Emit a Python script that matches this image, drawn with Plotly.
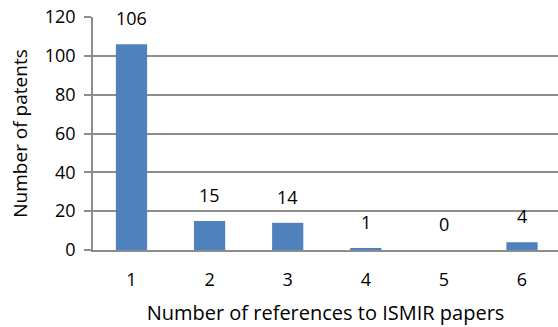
import plotly.graph_objects as go

# Patents grouped by how many ISMIR papers they cite
ref_counts = [1, 2, 3, 4, 5, 6]
patents = [106, 15, 14, 1, 0, 4]
y_ticks = [0, 20, 40, 60, 80, 100, 120]

FONT = "Open Sans"
BAR = "#4F81BD"
GRID = "#8C8C8C"

fig = go.Figure()
fig.add_trace(go.Bar(
    x=ref_counts,
    y=patents,
    marker=dict(color=BAR, line=dict(width=0)),
    width=0.4,
))

# value labels sitting above each bar
for xv, yv in zip(ref_counts, patents):
    fig.add_annotation(
        x=xv, y=yv, text=str(yv), showarrow=False,
        yanchor="bottom", yshift=12,
        font=dict(family=FONT, size=18, color="#000000"),
    )

fig.update_layout(
    width=558, height=327,
    margin=dict(l=93, r=0, t=17, b=77),
    paper_bgcolor="white", plot_bgcolor="white",
    showlegend=False,
    font=dict(family=FONT, size=18, color="#000000"),
)
fig.update_xaxes(
    range=[0.507, 6.461],
    tickvals=ref_counts,
    ticktext=[str(v) for v in ref_counts],
    showgrid=False, zeroline=False,
    showline=True, linecolor=GRID, linewidth=1.5,
    ticks="", ticklabelstandoff=13,
    tickfont=dict(family=FONT, size=18),
    title=dict(text="Number of references to ISMIR papers", standoff=16,
               font=dict(family=FONT, size=20)),
)
fig.update_yaxes(
    range=[0, 120],
    tickvals=y_ticks,
    showgrid=True, gridcolor=GRID, gridwidth=1.5,
    zeroline=False,
    showline=True, linecolor=GRID, linewidth=1.5,
    ticks="outside", ticklen=7, tickcolor=GRID, tickwidth=1.5,
    ticklabelstandoff=5,
    tickfont=dict(family=FONT, size=18),
    title=dict(text="Number of patents", standoff=12,
               font=dict(family=FONT, size=19)),
)

fig.write_html("out.html")
